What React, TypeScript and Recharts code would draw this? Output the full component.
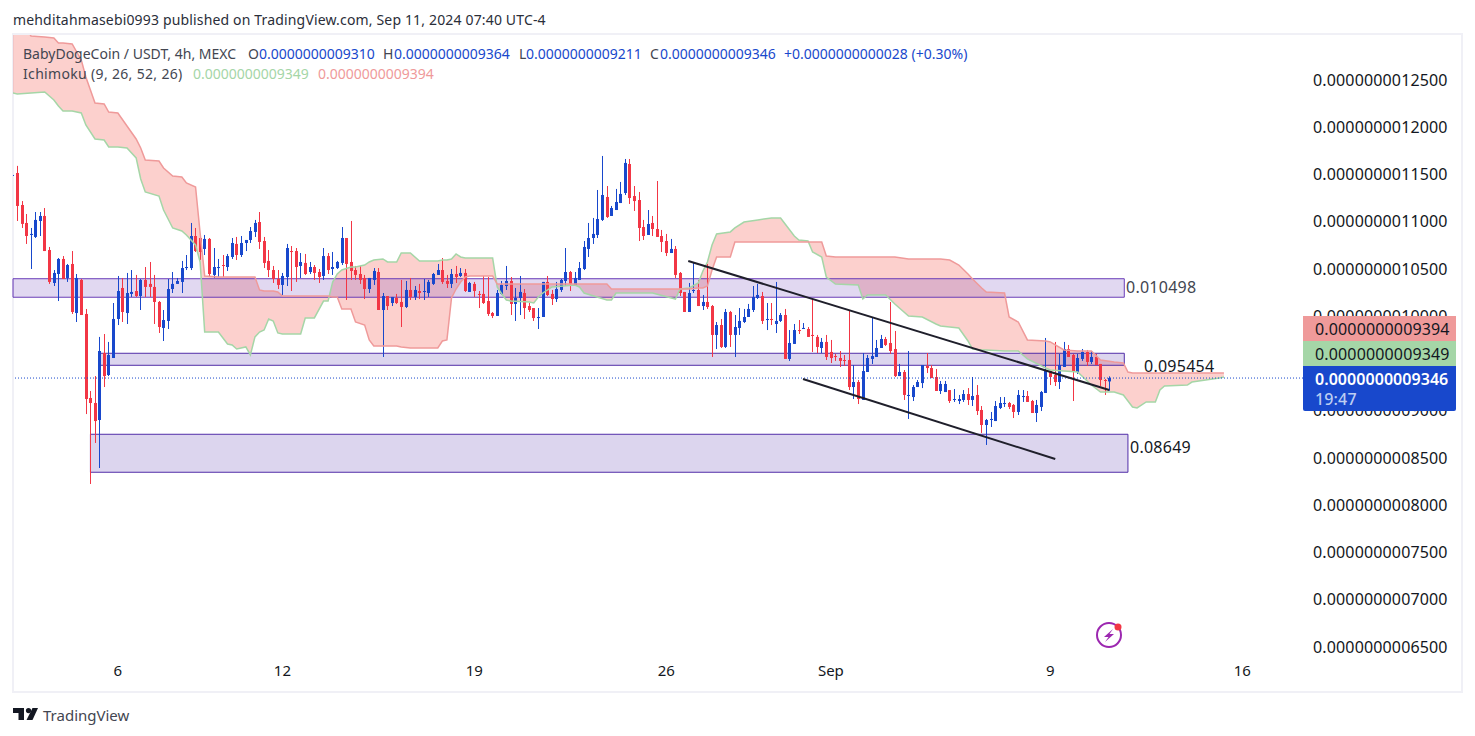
import { Area, Bar, ComposedChart, Line, ReferenceArea, ReferenceLine, XAxis, YAxis } from "recharts";

// prices are in units of the last printed decimal (1e-13 USDT)
const opens = [
  11485, 11516, 11177, 10987, 10860, 10839, 11008, 11061, 10701, 10352,
  10447, 10606, 10405, 10553, 10034, 10384, 10024, 9135, 9082, 8902,
  9611, 9378, 9558, 9971, 10299, 10034, 10236, 10267, 10214, 10384,
  10342, 10310, 10151, 9876, 9950, 10288, 10342, 10363, 10510, 10510,
  10849, 10828, 10712, 10818, 10437, 10510, 10542, 10521, 10627, 10765,
  10648, 10775, 10807, 10892, 10997, 10796, 10585, 10489, 10394, 10331,
  10415, 10690, 10690, 10532, 10564, 10468, 10521, 10468, 10426, 10637,
  10500, 10510, 10564, 10828, 10574, 10489, 10447, 10405, 10288, 10384,
  10468, 10066, 10214, 10140, 10193, 10151, 10098, 10278, 10204, 10267,
  10257, 10246, 10342, 10437, 10489, 10373, 10342, 10447, 10426, 10458,
  10257, 10342, 10236, 10236, 10161, 10034, 10003, 10236, 10320, 10373,
  10130, 10193, 10246, 10108, 10087, 9981, 9992, 10363, 10236, 10182,
  10278, 10373, 10468, 10320, 10384, 10500, 10712, 10828, 10860, 11019,
  11262, 11061, 11124, 11198, 11304, 11611, 11272, 11230, 10944, 10860,
  10987, 10923, 10849, 10796, 10669, 10712, 10458, 10257, 10045, 10267,
  10278, 10108, 10151, 10108, 9802, 9907, 9675, 10045, 9802, 9876,
  9939, 9992, 10066, 10193, 10214, 9960, 9971, 9918, 9950, 10013,
  9548, 9707, 9854, 9865, 9865, 9802, 9781, 9664, 9728, 9622,
  9579, 9558, 9537, 9537, 9251, 9304, 9114, 9410, 9548, 9569,
  9664, 9759, 9717, 9653, 9367, 9410, 9156, 9145, 9251, 9293,
  9474, 9452, 9357, 9209, 9198, 9219, 9114, 9103, 9114, 9177,
  9114, 9167, 9008, 8849, 8902, 8891, 9029, 9071, 9082, 9061,
  8987, 9145, 9156, 9103, 8976, 9040, 9188, 9420, 9378, 9304,
  9463, 9653, 9590, 9410, 9548, 9622, 9516, 9569, 9495, 9325,
  9310,
];
const highs = [
  11506, 11591, 11219, 11082, 10934, 11103, 11103, 11145, 10733, 10489,
  10616, 10637, 10553, 10690, 10447, 10394, 10077, 9209, 9367, 9781,
  9812, 9728, 10140, 10426, 10405, 10458, 10489, 10437, 10394, 10521,
  10574, 10437, 10161, 10066, 10394, 10468, 10405, 10585, 10648, 10987,
  10934, 10828, 10860, 10828, 10722, 10606, 10648, 10659, 10828, 10839,
  10849, 10807, 10944, 11019, 11103, 10839, 10701, 10532, 10489, 10458,
  10765, 10743, 10722, 10669, 10659, 10574, 10542, 10500, 10722, 10669,
  10680, 10585, 10944, 10828, 11008, 10532, 10532, 10437, 10405, 10510,
  10510, 10246, 10214, 10204, 10236, 10384, 10373, 10405, 10320, 10342,
  10394, 10384, 10458, 10553, 10616, 10437, 10500, 10532, 10510, 10500,
  10363, 10363, 10267, 10426, 10415, 10045, 10278, 10373, 10532, 10415,
  10299, 10426, 10288, 10140, 10087, 10087, 10363, 10426, 10278, 10363,
  10394, 10722, 10479, 10468, 10574, 10796, 10987, 11040, 11336, 11696,
  11378, 11167, 11347, 11421, 11664, 11664, 11378, 11315, 11019, 11124,
  11061, 11431, 10913, 10871, 10818, 10743, 10468, 10257, 10352, 10574,
  10384, 10225, 10553, 10119, 9939, 9971, 10077, 10056, 10013, 10087,
  10077, 10130, 10320, 10342, 10257, 10140, 10140, 10363, 10034, 10077,
  9854, 9918, 9960, 9928, 9886, 10182, 9802, 9770, 9802, 9749,
  9601, 9632, 9590, 10056, 9484, 9325, 9611, 9590, 9992, 9749,
  9802, 9781, 10151, 9844, 9495, 9431, 9632, 9272, 9325, 9484,
  9611, 9484, 9442, 9315, 9315, 9219, 9230, 9167, 9219, 9240,
  9357, 9272, 9050, 8913, 8987, 9103, 9145, 9145, 9093, 9071,
  9219, 9219, 9209, 9114, 9114, 9209, 9770, 9420, 9728, 9601,
  9728, 9696, 9601, 9601, 9653, 9643, 9632, 9601, 9495, 9336,
  9364,
];
const lows = [
  11474, 11008, 10934, 10765, 10500, 10828, 10849, 10690, 10342, 10320,
  10161, 10394, 10363, 10024, 9939, 10013, 8965, 8225, 8659, 8394,
  9251, 9367, 9558, 9907, 9939, 9918, 10204, 10204, 10066, 10204,
  10204, 9918, 9823, 9738, 9865, 10246, 10342, 10246, 10489, 10489,
  10680, 10595, 10648, 10415, 10405, 10415, 10415, 10479, 10606, 10595,
  10627, 10690, 10775, 10839, 10712, 10510, 10415, 10352, 10288, 10225,
  10320, 10267, 10363, 10405, 10437, 10447, 10384, 10352, 10384, 10447,
  10437, 10500, 10542, 10172, 10384, 10384, 10342, 10182, 10246, 10331,
  10066, 9569, 10066, 10108, 10130, 9886, 10087, 10172, 10172, 10182,
  10172, 10204, 10331, 10437, 10342, 10299, 10299, 10352, 10415, 10257,
  10257, 10204, 10087, 10130, 10003, 9981, 10003, 10225, 10278, 10013,
  9950, 10013, 9971, 10045, 9950, 9865, 9992, 10214, 10119, 10151,
  10257, 10320, 10267, 10320, 10384, 10489, 10627, 10765, 10828, 11008,
  11040, 11061, 11124, 11198, 11283, 11188, 11114, 10796, 10807, 10860,
  10849, 10839, 10680, 10637, 10669, 10405, 10214, 10045, 10045, 10246,
  10108, 10066, 10077, 9569, 9653, 9664, 9664, 9675, 9569, 9802,
  9928, 9992, 10045, 10182, 9918, 9854, 9907, 9823, 9939, 9548,
  9527, 9707, 9812, 9865, 9781, 9622, 9611, 9611, 9537, 9505,
  9527, 9463, 9474, 9219, 9124, 9071, 9114, 9410, 9495, 9569,
  9664, 9685, 9601, 9357, 9367, 9114, 8913, 9103, 9251, 9240,
  9399, 9346, 9209, 9177, 9198, 9082, 9093, 9071, 9093, 9061,
  9050, 8955, 8765, 8638, 8828, 8891, 9018, 9040, 9018, 8923,
  8955, 9093, 9093, 8976, 8881, 8997, 9188, 9272, 9262, 9230,
  9463, 9569, 9103, 9389, 9527, 9474, 9495, 9484, 9262, 9167,
  9211,
];
const closes = [
  11495, 11167, 10977, 10849, 10871, 11019, 11061, 10690, 10363, 10458,
  10606, 10394, 10542, 10045, 10405, 10013, 9124, 9082, 8891, 9632,
  9367, 9590, 9971, 10267, 10045, 10246, 10257, 10214, 10384, 10310,
  10310, 10151, 9886, 9960, 10288, 10342, 10373, 10510, 10521, 10849,
  10690, 10680, 10818, 10447, 10521, 10521, 10532, 10637, 10775, 10648,
  10775, 10807, 10902, 10987, 10786, 10564, 10489, 10394, 10331, 10426,
  10722, 10680, 10521, 10574, 10447, 10521, 10458, 10415, 10637, 10489,
  10521, 10574, 10828, 10553, 10479, 10437, 10384, 10288, 10405, 10479,
  10066, 10214, 10108, 10204, 10140, 10098, 10278, 10204, 10278, 10246,
  10267, 10363, 10447, 10489, 10363, 10342, 10447, 10415, 10458, 10267,
  10352, 10267, 10225, 10140, 10024, 10003, 10246, 10331, 10373, 10130,
  10193, 10257, 10087, 10066, 9981, 9992, 10363, 10225, 10182, 10288,
  10384, 10468, 10342, 10405, 10510, 10733, 10828, 10871, 11029, 11283,
  11050, 11145, 11209, 11294, 11622, 11251, 11219, 10934, 10849, 10976,
  10923, 10839, 10786, 10669, 10712, 10437, 10246, 10045, 10246, 10278,
  10108, 10151, 10098, 9802, 9907, 9675, 10045, 9802, 9886, 9950,
  9992, 10077, 10204, 10225, 9950, 9971, 9960, 9950, 10013, 9548,
  9717, 9854, 9844, 9876, 9781, 9791, 9675, 9728, 9569, 9558,
  9569, 9527, 9527, 9251, 9304, 9124, 9420, 9558, 9579, 9664,
  9759, 9696, 9632, 9367, 9410, 9167, 9167, 9251, 9304, 9484,
  9452, 9346, 9209, 9283, 9283, 9103, 9124, 9124, 9177, 9114,
  9156, 8997, 8849, 8902, 8913, 9050, 9082, 9082, 9040, 8987,
  9167, 9156, 9093, 8976, 9061, 9198, 9431, 9357, 9304, 9484,
  9653, 9569, 9410, 9558, 9622, 9516, 9569, 9484, 9325, 9315,
  9346,
];

// Ichimoku cloud, read at these bar numbers
const cloudBars = [
  0, 1, 4, 7, 9, 10, 11, 13, 15, 16,
  18, 20, 21, 23, 25, 27, 28, 29, 32, 33,
  35, 37, 38, 40, 41, 42, 45, 47, 48, 49,
  51, 52, 53, 54, 55, 56, 57, 58, 59, 63,
  64, 66, 68, 69, 70, 71, 72, 74, 75, 77,
  78, 79, 81, 82, 84, 85, 87, 89, 93, 94,
  95, 96, 97, 98, 99, 100, 105, 106, 107, 108,
  109, 113, 114, 115, 116, 118, 123, 124, 125, 130,
  131, 132, 140, 145, 146, 148, 150, 151, 152, 153,
  154, 157, 158, 160, 163, 166, 168, 169, 171, 172,
  174, 175, 177, 178, 180, 185, 186, 187, 191, 193,
  196, 199, 202, 203, 205, 207, 209, 210, 212, 213,
  217, 218, 220, 222, 226, 227, 230, 233, 236, 238,
  241, 243, 244, 245, 246, 248, 250, 251, 252, 257,
  258, 264, 265,
];
const spanA = [
  12362, 12352, 12362, 12373, 12288, 12225, 12172, 12172, 12151, 12024,
  11876, 11865, 11791, 11791, 11780, 11675, 11452, 11315, 11272, 11124,
  10934, 10902, 10860, 10754, 10574, 9833, 9833, 9706, 9696, 9653,
  9675, 9590, 9781, 9833, 9854, 9971, 9950, 9823, 9812, 9812,
  9982, 9982, 10161, 10161, 10362, 10447, 10489, 10521, 10521, 10542,
  10574, 10595, 10606, 10574, 10574, 10669, 10669, 10585, 10585, 10595,
  10595, 10606, 10659, 10627, 10616, 10616, 10616, 10310, 10235, 10172,
  10161, 10151, 10140, 10204, 10246, 10310, 10331, 10310, 10246, 10172,
  10172, 10246, 10246, 10182, 10288, 10299, 10352, 10479, 10574, 10754,
  10871, 10892, 10934, 10997, 11019, 11040, 11040, 10976, 10849, 10807,
  10796, 10680, 10627, 10415, 10341, 10331, 10182, 10225, 10225, 10130,
  10003, 9992, 9918, 9897, 9886, 9876, 9738, 9653, 9643, 9643,
  9632, 9632, 9632, 9548, 9452, 9431, 9421, 9410, 9272, 9198,
  9198, 9167, 9103, 9040, 9029, 9093, 9093, 9220, 9262, 9272,
  9304, 9347, 9357,
];
const spanB = [
  13220, 13188, 12966, 12955, 12945, 12892, 12892, 12881, 12712, 12532,
  12257, 12246, 12161, 12151, 12013, 11876, 11780, 11653, 11643, 11569,
  11484, 11474, 11410, 11368, 10881, 10426, 10415, 10415, 10415, 10415,
  10415, 10415, 10415, 10278, 10267, 10267, 10267, 10257, 10214, 10214,
  10214, 10214, 10214, 10214, 10204, 10204, 10077, 10077, 9939, 9907,
  9749, 9685, 9685, 9685, 9685, 9675, 9664, 9664, 9664, 9738,
  9749, 10193, 10288, 10362, 10415, 10426, 10426, 10341, 10341, 10341,
  10341, 10341, 10341, 10341, 10341, 10341, 10341, 10341, 10341, 10341,
  10288, 10288, 10288, 10288, 10288, 10288, 10299, 10299, 10320, 10489,
  10627, 10627, 10786, 10786, 10786, 10786, 10786, 10786, 10786, 10786,
  10786, 10786, 10786, 10638, 10627, 10627, 10627, 10627, 10627, 10627,
  10606, 10606, 10606, 10606, 10595, 10542, 10447, 10394, 10299, 10257,
  10246, 9992, 9939, 9749, 9738, 9728, 9643, 9632, 9632, 9537,
  9516, 9505, 9410, 9399, 9399, 9399, 9399, 9399, 9399, 9399,
  9399, 9399, 9399,
];

const priceTicks = [6500, 7000, 7500, 8000, 8500, 9000, 9500, 10000, 10500, 11000, 11500, 12000, 12500];
const dayBars = [23, 59, 101, 143, 179, 227, 269];
const dayLabels = ["6", "12", "19", "26", "Sep", "9", "16"];

const zones = [
  { from: 0.06, to: 243.2, top: 10397, bottom: 10201, fill: "#673ab7", line: "#6a3db8" },
  { from: 19.1, to: 243.2, top: 9608, bottom: 9481, fill: "#512da8", line: "#512da8" },
  { from: 17, to: 244, top: 8751, bottom: 8349, fill: "#512da8", line: "#512da8" },
];
const trendLines = [
  { x1: 147.8, y1: 10585, x2: 239.9, y2: 9220 },
  { x1: 172.9, y1: 9336, x2: 228.1, y2: 8489 },
];

const candles = opens.map((o, i) => ({
  bar: i,
  o,
  c: closes[i],
  h: highs[i],
  l: lows[i],
  range: [lows[i], highs[i]],
}));
const cloud = cloudBars.map((bar, i) => ({ bar, a: spanA[i], b: spanB[i], band: [spanA[i], spanB[i]] }));

const UP = "#1848cc";
const DOWN = "#f23645";
const FONT = "'Noto Sans', sans-serif";

const fmtPrice = (v: number) => (v / 1e13).toFixed(13);

function Candle(props: any) {
  const { x, y, width, height, payload } = props;
  const cx = x + width / 2;
  const k = Math.abs(height) / (payload.h - payload.l || 1);
  const top = y + (payload.h - Math.max(payload.o, payload.c)) * k;
  const bodyH = Math.max(Math.abs(payload.o - payload.c) * k, 1);
  const color = payload.c >= payload.o ? UP : DOWN;
  return (
    <g>
      <rect x={Math.round(cx - 0.5)} y={y} width={1} height={Math.abs(height)} fill={color} />
      <rect x={Math.round(cx - 1.5)} y={top} width={3} height={bodyH} fill={color} />
    </g>
  );
}

function Txt({ x, y, color = "#131722", size = 14, weight = 400, spacing = 0, children }: any) {
  return (
    <div
      style={{
        position: "absolute",
        left: x,
        top: y,
        color,
        fontSize: size,
        fontWeight: weight,
        fontFamily: FONT,
        letterSpacing: spacing,
        lineHeight: "20px",
        whiteSpace: "pre",
      }}
    >
      {children}
    </div>
  );
}

function Tag({ top, height, bg, radius }: any) {
  return (
    <div style={{ position: "absolute", left: 1303, top, width: 153, height, background: bg, borderRadius: radius }} />
  );
}

export default function App() {
  return (
    <div style={{ position: "absolute", left: 0, top: 0, width: 1475, height: 736, background: "#fff", overflow: "hidden" }}>
      <div
        style={{
          position: "absolute",
          left: 12,
          top: 33,
          width: 1447,
          height: 656,
          border: "2px solid #f0f0f6",
        }}
      />
      <div style={{ position: "absolute", left: 0, top: 0 }}>
        <ComposedChart
          width={1475}
          height={736}
          data={candles}
          margin={{ top: 35, right: 0, bottom: 44, left: 13 }}
        >
          <XAxis
            type="number"
            dataKey="bar"
            domain={[0.06, 282.3]}
            allowDataOverflow
            ticks={dayBars}
            tickFormatter={(v: number) => dayLabels[dayBars.indexOf(v)]}
            axisLine={false}
            tickLine={false}
            tickSize={0}
            tickMargin={13}
            height={40}
            interval={0}
            tick={{ fontSize: 15, fill: "#131722", fontFamily: FONT }}
          />
          <YAxis
            type="number"
            orientation="right"
            domain={[6447, 12976]}
            allowDataOverflow
            ticks={priceTicks}
            tickFormatter={fmtPrice}
            axisLine={false}
            tickLine={false}
            tickSize={0}
            tickMargin={10}
            width={172}
            interval={0}
            tick={{ fontSize: 16, fill: "#131722", fontFamily: FONT, letterSpacing: 0.15 }}
          />
          <Area
            data={cloud}
            dataKey="band"
            type="linear"
            stroke="none"
            fill="#f44336"
            fillOpacity={0.25}
            isAnimationActive={false}
            dot={false}
            activeDot={false}
          />
          <Line data={cloud} dataKey="a" type="linear" stroke="#a5d6a7" strokeWidth={1.5} dot={false} isAnimationActive={false} />
          <Line data={cloud} dataKey="b" type="linear" stroke="#ef9a9a" strokeWidth={1.5} dot={false} isAnimationActive={false} />
          <Bar dataKey="range" barSize={3} shape={Candle} isAnimationActive={false} />
          {zones.map((z) => (
            <ReferenceArea
              key={z.top}
              x1={z.from}
              x2={z.to}
              y1={z.top}
              y2={z.bottom}
              fill={z.fill}
              fillOpacity={0.2}
              stroke={z.line}
              strokeWidth={1}
              ifOverflow="visible"
            />
          ))}
          <ReferenceLine y={9346} stroke="#1848cc" strokeWidth={1} strokeDasharray="1 2" />
          {trendLines.map((t) => (
            <ReferenceLine
              key={t.x1}
              segment={[
                { x: t.x1, y: t.y1 },
                { x: t.x2, y: t.y2 },
              ]}
              stroke="#1f1f2b"
              strokeWidth={2}
            />
          ))}
        </ComposedChart>
      </div>

      <Txt x={13} y={10} spacing={0.16} color="#2a2e39">mehditahmasebi0993 published on TradingView.com, Sep 11, 2024 07:40 UTC-4</Txt>

      <Txt x={23} y={44} color="#434651">BabyDogeCoin / USDT, 4h, MEXC</Txt>
      <Txt x={248} y={44} color="#434651">O</Txt>
      <Txt x={259} y={44} color={UP}>0.0000000009310</Txt>
      <Txt x={383} y={44} color="#434651">H</Txt>
      <Txt x={394} y={44} color={UP}>0.0000000009364</Txt>
      <Txt x={519} y={44} color="#434651">L</Txt>
      <Txt x={526} y={44} color={UP}>0.0000000009211</Txt>
      <Txt x={650} y={44} color="#434651">C</Txt>
      <Txt x={660} y={44} color={UP}>0.0000000009346</Txt>
      <Txt x={784} y={44} color={UP}>+0.0000000000028 (+0.30%)</Txt>
      <Txt x={23} y={64} color="#434651" spacing={0.33}>Ichimoku (9, 26, 52, 26)</Txt>
      <Txt x={193} y={64} color="#a5d6a7">0.0000000009349</Txt>
      <Txt x={318} y={64} color="#ef9a9a">0.0000000009394</Txt>

      <Txt x={1126} y={277} size={16} color="#434651" spacing={0.25}>0.010498</Txt>
      <Txt x={1144} y={356} size={16} spacing={0.25}>0.095454</Txt>
      <Txt x={1130} y={437} size={16} spacing={0.25}>0.08649</Txt>

      <Tag top={316} height={25} bg="#ef9a9a" />
      <Tag top={341} height={25} bg="#a5d6a7" />
      <Tag top={366} height={45} bg={UP} radius="0 0 2px 2px" />
      <Txt x={1315} y={319} size={16} spacing={0.15}>0.0000000009394</Txt>
      <Txt x={1315} y={344} size={16} spacing={0.15}>0.0000000009349</Txt>
      <Txt x={1315} y={369} size={16} spacing={0.05} color="#fff" weight={600}>0.0000000009346</Txt>
      <Txt x={1315} y={389} size={16} spacing={0.15} color="#bccdf2" weight={500}>19:47</Txt>

      <svg style={{ position: "absolute", left: 1095, top: 620 }} width={32} height={32}>
        <circle cx={14} cy={15} r={12} fill="none" stroke="#9c27b0" strokeWidth={2} />
        <path d="M18 9 L9 17 L13.5 17 L10 22 L19 14 L14.5 14 Z" fill="#9c27b0" />
        <circle cx={23} cy={7} r={3.5} fill="#f23645" />
      </svg>

      <svg style={{ position: "absolute", left: 13, top: 707 }} width={26} height={14}>
        <path d="M0 1 H11 V13 H5.5 V6 H0 Z" fill="#131722" />
        <circle cx={15.5} cy={3.6} r={2.6} fill="#131722" />
        <path d="M19.5 1 H25 L19.5 13 H13.5 Z" fill="#131722" />
      </svg>
      <Txt x={43} y={705} size={15} color="#434651">TradingView</Txt>
    </div>
  );
}
